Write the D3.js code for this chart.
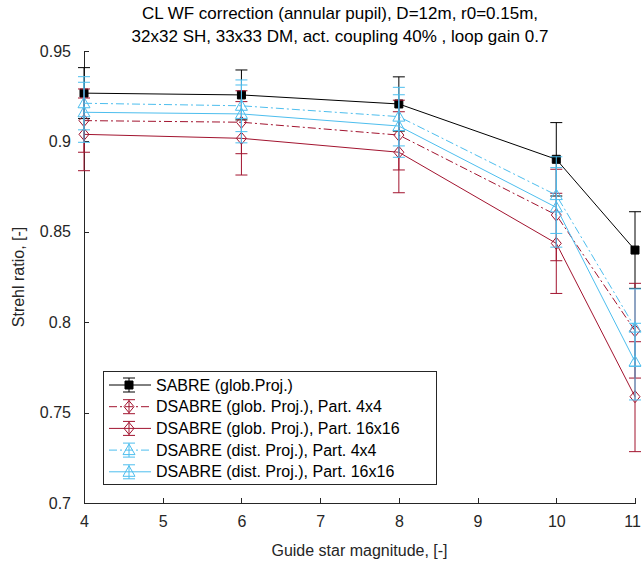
<!DOCTYPE html>
<html>
<head>
<meta charset="utf-8">
<script src="https://cdn.jsdelivr.net/npm/d3@7"></script>
<style>
  body { margin: 0; background: #fff; }
  svg { font-family: "Liberation Sans", Arial, sans-serif; }
</style>
</head>
<body>
<svg id="chart" width="642" height="565"></svg>
<script>
//chart data
var magnitudes = [4, 6, 8, 10, 11];
var seriesNames = [
    "SABRE (glob.Proj.)",
    "DSABRE (glob. Proj.), Part. 4x4",
    "DSABRE (glob. Proj.), Part. 16x16",
    "DSABRE (dist. Proj.), Part. 4x4",
    "DSABRE (dist. Proj.), Part. 16x16"
];
var sabreGlob = [0.9267, 0.9257, 0.9207, 0.8901, 0.8399];
var sabreGlobErr = [0.0141, 0.0138, 0.0150, 0.0203, 0.0212];
var dsGlob4 = [0.9115, 0.9106, 0.9035, 0.8593, 0.7953];
var dsGlob4Err = [0.0175, 0.0174, 0.0193, 0.0253, 0.0262];
var dsGlob16 = [0.9039, 0.9017, 0.8940, 0.8436, 0.7588];
var dsGlob16Err = [0.0201, 0.0203, 0.0224, 0.0277, 0.0304];
var dsDist4 = [0.9211, 0.9197, 0.9137, 0.8703, 0.7970];
var dsDist4Err = [0.0147, 0.0143, 0.0162, 0.0212, 0.0214];
var dsDist16 = [0.9161, 0.9152, 0.9085, 0.8635, 0.7782];
var dsDist16Err = [0.0166, 0.0160, 0.0173, 0.0220, 0.0212];
var xTicks = [4, 5, 6, 7, 8, 9, 10, 11];
var yTicks = [0.7, 0.75, 0.8, 0.85, 0.9, 0.95];
var titleLines = [
    "CL WF correction (annular pupil), D=12m, r0=0.15m,",
    "32x32 SH, 33x33 DM, act. coupling 40% , loop gain 0.7"
];

//styles for every series
var red = "#a2142f", cyan = "#4dbeee";
var dashDot = "8,3,2,3";
var series = [
    {name: seriesNames[0], values: sabreGlob, err: sabreGlobErr, color: "#000", dash: null, marker: "square"},
    {name: seriesNames[1], values: dsGlob4, err: dsGlob4Err, color: red, dash: dashDot, marker: "diamond"},
    {name: seriesNames[2], values: dsGlob16, err: dsGlob16Err, color: red, dash: null, marker: "diamond"},
    {name: seriesNames[3], values: dsDist4, err: dsDist4Err, color: cyan, dash: dashDot, marker: "triangle"},
    {name: seriesNames[4], values: dsDist16, err: dsDist16Err, color: cyan, dash: null, marker: "triangle"}
];

var svg = d3.select("#chart"),
    margin = {top: 51, left: 84, bottom: 62, right: 7},
    width = +svg.attr("width") - margin.left - margin.right,
    height = +svg.attr("height") - margin.top - margin.bottom,
    axisColor = "#262626";

var x = d3.scaleLinear().domain([4, 11]).range([margin.left, margin.left + width]);
var y = d3.scaleLinear().domain([0.7, 0.95]).range([margin.top + height, margin.top]);

//title
svg.append("g").selectAll("text")
    .data(titleLines)
    .enter().append("text")
    .attr("x", 340)
    .attr("y", function (d, i) { return 19 + i * 23; })
    .attr("text-anchor", "middle")
    .attr("font-size", 17)
    .attr("fill", "#000")
    .text(function (d) { return d; });

//axes, ticks inward, no box
var xAxis = svg.append("g")
    .attr("transform", "translate(0," + (margin.top + height) + ")")
    .call(d3.axisBottom(x).tickValues(xTicks).tickSizeInner(-5).tickSizeOuter(0).tickPadding(13).tickFormat(d3.format("d")));
var yAxis = svg.append("g")
    .attr("transform", "translate(" + margin.left + ",0)")
    .call(d3.axisLeft(y).tickValues(yTicks).tickSizeInner(-5).tickSizeOuter(0).tickPadding(13).tickFormat(function (d) { return String(+d.toFixed(2)); }));

[xAxis, yAxis].forEach(function (a) {
    a.selectAll("path, line").attr("stroke", axisColor).attr("shape-rendering", "crispEdges");
    a.selectAll("text").attr("fill", axisColor).attr("font-size", 16).attr("font-family", "Liberation Sans, Arial, sans-serif");
});
//keep the last x label inside the window
xAxis.selectAll(".tick text").filter(function (d) { return d === 11; }).attr("dx", -3);

//axis labels
svg.append("text")
    .attr("x", margin.left + width / 2)
    .attr("y", 556)
    .attr("text-anchor", "middle")
    .attr("font-size", 16)
    .attr("fill", axisColor)
    .text("Guide star magnitude, [-]");
svg.append("text")
    .attr("transform", "translate(24," + (margin.top + height / 2) + ") rotate(-90)")
    .attr("text-anchor", "middle")
    .attr("font-size", 16)
    .attr("fill", axisColor)
    .text("Strehl ratio, [-]");

//marker shapes
function markerPath(type) {
    if (type === "square") return "M-4,-4H4V4H-4Z";
    if (type === "diamond") return "M0,-6L5,0L0,6L-5,0Z";
    return "M0,-6L6,4.5H-6Z";
}

var capW = 6;
var plot = svg.append("g").attr("class", "plot");

series.forEach(function (s) {
    var g = plot.append("g");
    var pts = magnitudes.map(function (m, i) { return {m: m, v: s.values[i], e: s.err[i]}; });

    g.append("path")
        .datum(pts)
        .attr("fill", "none")
        .attr("stroke", s.color)
        .attr("stroke-width", 1)
        .attr("stroke-dasharray", s.dash)
        .attr("d", d3.line().x(function (d) { return x(d.m); }).y(function (d) { return y(d.v); }));

    //error bars
    var eb = g.selectAll(".eb").data(pts).enter().append("g").attr("class", "eb")
        .attr("stroke", s.color).attr("stroke-width", 1);
    eb.append("line")
        .attr("x1", function (d) { return x(d.m); }).attr("x2", function (d) { return x(d.m); })
        .attr("y1", function (d) { return y(d.v - d.e); }).attr("y2", function (d) { return y(d.v + d.e); });
    eb.append("line")
        .attr("x1", function (d) { return x(d.m) - capW; }).attr("x2", function (d) { return x(d.m) + capW; })
        .attr("y1", function (d) { return y(d.v - d.e); }).attr("y2", function (d) { return y(d.v - d.e); });
    eb.append("line")
        .attr("x1", function (d) { return x(d.m) - capW; }).attr("x2", function (d) { return x(d.m) + capW; })
        .attr("y1", function (d) { return y(d.v + d.e); }).attr("y2", function (d) { return y(d.v + d.e); });

    //markers
    g.selectAll(".mk").data(pts).enter().append("path").attr("class", "mk")
        .attr("transform", function (d) { return "translate(" + x(d.m) + "," + y(d.v) + ")"; })
        .attr("d", markerPath(s.marker))
        .attr("fill", s.marker === "square" ? s.color : "none")
        .attr("stroke", s.color)
        .attr("stroke-width", 1);
});

//legend
var legend = svg.append("g").attr("transform", "translate(103,371)");
legend.append("rect")
    .attr("width", 333).attr("height", 113)
    .attr("fill", "#fff").attr("stroke", axisColor).attr("stroke-width", 1)
    .attr("shape-rendering", "crispEdges");

var item = legend.selectAll(".item").data(series).enter().append("g").attr("class", "item")
    .attr("transform", function (d, i) { return "translate(0," + (14 + i * 21.7) + ")"; });
item.append("line")
    .attr("x1", 6).attr("x2", 48).attr("y1", 0).attr("y2", 0)
    .attr("stroke", function (d) { return d.color; })
    .attr("stroke-dasharray", function (d) { return d.dash; });
item.append("path")
    .attr("d", "M20,-7H32M26,-7V7M20,7H32")
    .attr("fill", "none")
    .attr("stroke", function (d) { return d.color; });
item.append("path")
    .attr("transform", "translate(26,0)")
    .attr("d", function (d) { return markerPath(d.marker); })
    .attr("fill", function (d) { return d.marker === "square" ? d.color : "none"; })
    .attr("stroke", function (d) { return d.color; });
item.append("text")
    .attr("x", 53).attr("y", 5.5)
    .attr("font-size", 16)
    .attr("fill", "#000")
    .text(function (d) { return d.name; });
</script>
</body>
</html>
